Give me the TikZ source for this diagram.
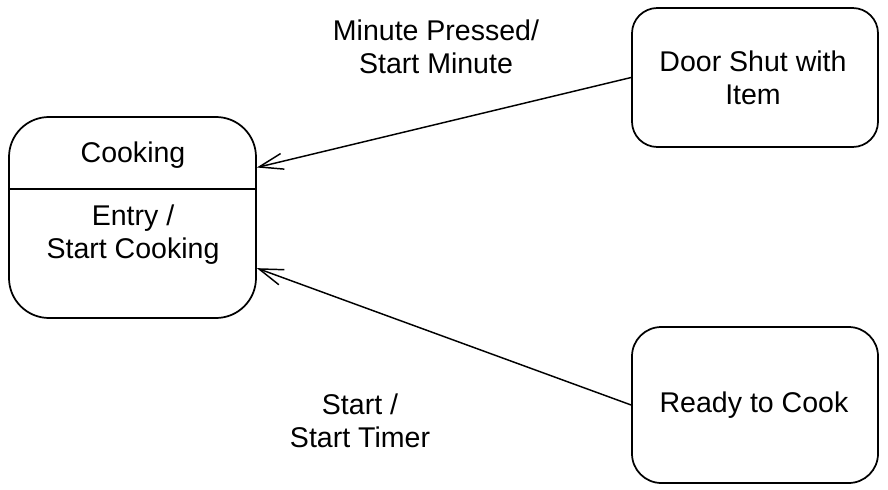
\documentclass[tikz,border=0pt]{standalone}
\usepackage{fontspec}
\setmainfont{Liberation Sans}
\usetikzlibrary{arrows.meta}
\begin{document}
\begin{tikzpicture}[x=0.75pt,y=-0.75pt,
  state/.style={draw,line width=1.3pt,inner sep=0pt},
  txt/.style={font=\fontsize{21.4}{24.75}\selectfont,align=center,inner sep=0pt},
  trans/.style={line width=1.1pt,-{Straight Barb[length=18pt,width=12pt,line width=1.1pt]}}]
\useasboundingbox (0,0) rectangle (888,489);
\node[state,rounded corners=30pt,minimum width=185.25pt,minimum height=150.75pt] (cook) at (132.5,217.5) {};
\draw[line width=1.3pt] (cook.west |- 0,189) coordinate (dl) -- (cook.east |- 0,189) coordinate (dr);
\node[txt] (ctitle) at (133,155) {Cooking};
\node[txt] (cbody) at (133,235) {Entry /\\Start Cooking};
\node[state,rounded corners=19pt,minimum width=184.5pt,minimum height=104.25pt] (door) at (755,77.5) {};
\node[txt] (doortxt) at (753,78) {Door Shut with\\Item};
\node[state,rounded corners=22pt,minimum width=184.5pt,minimum height=117pt] (ready) at (755,405) {};
\node[txt] (readytxt) at (754,405) {Ready to Cook};
\draw[trans] (door.west) -- ([yshift=37.5pt]cook.east);
\draw[trans] (ready.west) -- ([yshift=-38pt]cook.east);
\node[txt] (lab1) at (436,47) {Minute Pressed/\\Start Minute};
\node[txt] (lab2) at (360,421) {Start /\\Start Timer};
\end{tikzpicture}
\end{document}
